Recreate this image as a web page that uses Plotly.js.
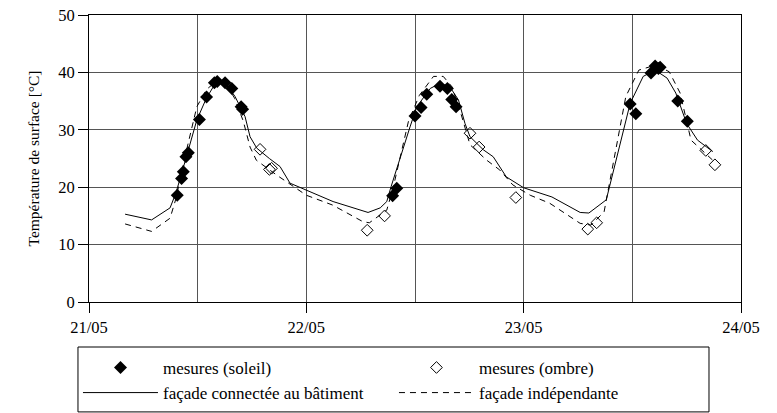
<!DOCTYPE html>
<html>
<head>
<meta charset="utf-8">
<script src="https://cdn.plot.ly/plotly-3.0.1.min.js"></script>
<style>
html,body{margin:0;padding:0;background:#fff;}
#chart{width:777px;height:413px;}
#chart svg text{font-family:'Liberation Serif','Times New Roman',serif !important;}
</style>
</head>
<body>
<div id="chart"></div>
<script>
// time in days from 21/05 00:00
var solidX = [0.166,0.288,0.373,0.40,0.446,0.496,0.54,0.58,0.61,0.64,0.672,0.718,0.741,0.772,0.83,0.879,0.925,1.0,1.123,1.284,1.34,1.37,1.39,1.477,1.508,1.57,1.615,1.66,1.70,1.73,1.753,1.815,1.86,1.92,2.0,2.13,2.26,2.30,2.38,2.49,2.55,2.605,2.66,2.70,2.75,2.80,2.87];
var solidY = [15.3,14.3,16.4,19.0,25.0,31.7,35.5,38.0,38.4,37.5,35.8,32.3,28.8,26.8,25.0,23.6,20.7,19.5,17.5,15.6,16.4,17.5,20.1,30.5,34.0,37.2,38.1,37.5,35.2,31.1,28.8,26.5,25.3,21.8,19.9,18.3,15.6,15.5,17.8,34.6,39.3,40.4,39.0,36.4,31.1,28.2,26.2];
var dashX = [0.166,0.288,0.373,0.40,0.446,0.496,0.54,0.59,0.63,0.67,0.71,0.741,0.77,0.864,1.0,1.12,1.26,1.29,1.37,1.40,1.47,1.52,1.585,1.63,1.67,1.71,1.753,1.83,1.89,1.95,2.03,2.12,2.26,2.31,2.37,2.47,2.53,2.61,2.67,2.72,2.77,2.81,2.87];
var dashY = [13.6,12.3,14.6,18.0,26.0,34.0,37.0,38.6,38.0,35.5,31.5,27.0,24.7,22.1,18.6,16.9,14.0,13.8,16.0,20.0,31.5,36.0,39.3,39.3,37.5,33.0,27.4,24.7,23.0,20.4,18.6,17.2,13.7,13.4,15.7,35.8,40.4,41.3,40.1,36.4,28.2,26.8,24.7];
var sunX = [0.406,0.426,0.434,0.446,0.457,0.508,0.541,0.577,0.59,0.626,0.657,0.70,0.707,1.397,1.416,1.50,1.528,1.554,1.615,1.649,1.669,1.689,2.49,2.516,2.586,2.605,2.62,2.628,2.709,2.753];
var sunY = [18.6,21.5,22.7,25.3,26.0,31.8,35.7,38.2,38.4,38.2,37.2,34.0,33.6,18.5,19.8,32.4,33.9,36.2,37.6,37.2,35.3,34.0,34.5,32.8,39.9,41.1,40.7,40.9,35.0,31.5];
var shadeX = [0.787,0.83,0.84,1.28,1.36,1.753,1.795,1.964,2.295,2.336,2.838,2.88];
var shadeY = [26.6,23.1,23.3,12.5,15.0,29.4,27.0,18.2,12.7,13.8,26.4,23.9];
var tickVals = [0,1,2,3];
var tickText = ['21/05','22/05','23/05','24/05'];
var names = ['mesures (soleil)','mesures (ombre)','façade connectée au bâtiment','façade indépendante'];

var FONT = 'Liberation Serif';
var traces = [
  {x: sunX, y: sunY, mode: 'markers', name: names[0], marker: {symbol: 'diamond', size: 10, color: '#000'}},
  {x: shadeX, y: shadeY, mode: 'markers', name: names[1], marker: {symbol: 'diamond-open', size: 9, color: '#000', line: {width: 1, color: '#000'}}},
  {x: solidX, y: solidY, mode: 'lines', name: names[2], line: {color: '#000', width: 1}},
  {x: dashX, y: dashY, mode: 'lines', name: names[3], line: {color: '#000', width: 1, dash: '6px,5px'}}
];
var layout = {
  width: 777, height: 413,
  margin: {l: 89, r: 36, t: 15, b: 111, autoexpand: false},
  paper_bgcolor: '#fff', plot_bgcolor: '#fff',
  font: {family: FONT, size: 16, color: '#000'},
  showlegend: true,
  legend: {orientation: 'h', x: -0.0169, xanchor: 'left', y: -0.167, yanchor: 'top',
    borderwidth: 0, entrywidth: 226, itemwidth: 75, bgcolor: 'rgba(0,0,0,0)',
    font: {family: FONT, size: 17, color: '#000'}, traceorder: 'normal'},
  shapes: [
    {type: 'rect', xref: 'paper', yref: 'paper', x0: -0.0169, x1: 0.9509, y0: -0.1568, y1: -0.383,
     line: {color: '#000', width: 1}, fillcolor: 'rgba(0,0,0,0)', layer: 'above'}
  ],
  xaxis: {range: [0, 3], tickvals: tickVals, ticktext: tickText, ticks: 'outside', ticklen: 10, tickcolor: '#000',
    showline: true, mirror: true, linecolor: '#000', linewidth: 1,
    showgrid: true, gridcolor: '#555', gridwidth: 1, zeroline: false,
    minor: {dtick: 0.5, tick0: 0, showgrid: true, gridcolor: '#555', gridwidth: 1},
    tickfont: {family: FONT, size: 16.5, color: '#000'}},
  yaxis: {range: [0, 50], dtick: 10, ticks: 'outside', ticklen: 10, tickcolor: '#000',
    showline: true, mirror: true, linecolor: '#000', linewidth: 1,
    showgrid: true, gridcolor: '#555', gridwidth: 1, zeroline: false,
    title: {text: 'Température de surface [°C]', font: {family: FONT, size: 15.5, color: '#000'}, standoff: 14},
    tickfont: {family: FONT, size: 16.5, color: '#000'}}
};
Plotly.newPlot('chart', traces, layout, {displayModeBar: false, staticPlot: true});
</script>
</body>
</html>
